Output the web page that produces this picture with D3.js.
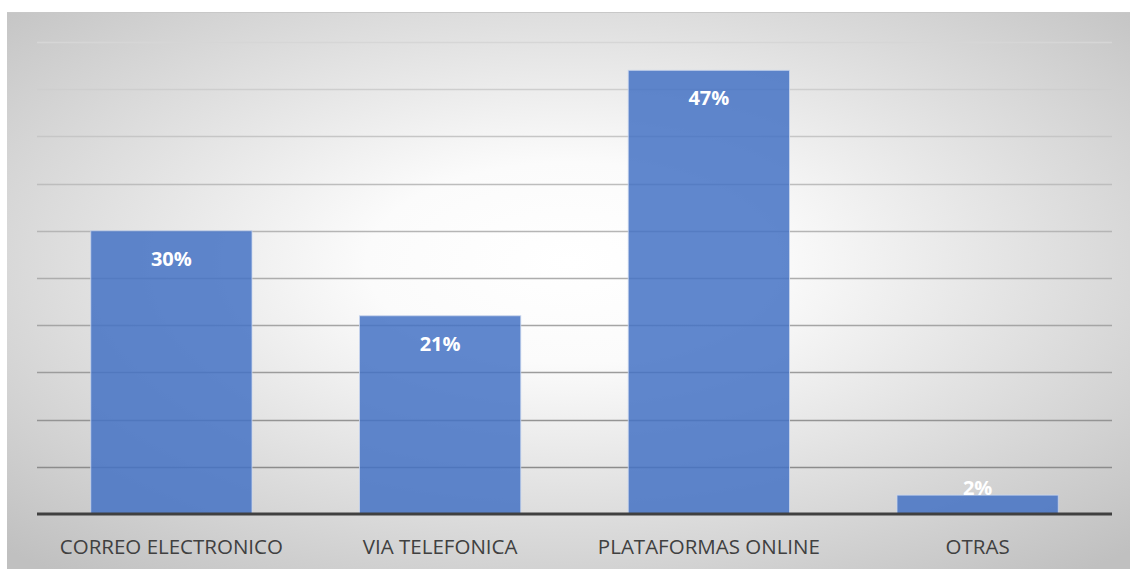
<!DOCTYPE html>
<html>
<head>
<meta charset="utf-8">
<script src="https://cdn.jsdelivr.net/npm/d3@7"></script>
<style>
  html, body { margin: 0; padding: 0; background: #ffffff; }
  svg { display: block; }
</style>
</head>
<body>
<svg id="chart" width="1130" height="569"></svg>
<script>
// Canales de contacto utilizados (porcentaje de respuestas)
const categories = ["CORREO ELECTRONICO", "VIA TELEFONICA", "PLATAFORMAS ONLINE", "OTRAS"];
const values = [0.30, 0.21, 0.47, 0.02];
const valueLabels = ["30%", "21%", "47%", "2%"];
const gridTicks = [0.05, 0.10, 0.15, 0.20, 0.25, 0.30, 0.35, 0.40, 0.45, 0.50];

const svg = d3.select("#chart");
const W = 1130, H = 569;

// Panel background: soft radial gradient, white centre fading to grey
const defs = svg.append("defs");
const grad = defs.append("radialGradient")
  .attr("id", "bg")
  .attr("cx", "0.5").attr("cy", "0.45")
  .attr("r", "0.72");
grad.append("stop").attr("offset", "0").attr("stop-color", "#ffffff");
grad.append("stop").attr("offset", "0.25").attr("stop-color", "#fbfbfb");
grad.append("stop").attr("offset", "1").attr("stop-color", "#c0c0c0");

svg.append("rect")
  .attr("x", 7).attr("y", 12)
  .attr("width", W - 7).attr("height", H - 12)
  .attr("fill", "url(#bg)");
svg.append("line")
  .attr("x1", 7).attr("x2", W).attr("y1", 12.5).attr("y2", 12.5)
  .attr("stroke", "#c8c8c8").attr("stroke-width", 1);

const margin = { left: 37, right: 18, top: 42, bottom: 55 };
const plotLeft = margin.left, plotRight = W - margin.right;

const x = d3.scaleBand()
  .domain(categories)
  .range([plotLeft, plotRight])
  .paddingInner(0.4)
  .paddingOuter(0.2);

const y = d3.scaleLinear()
  .domain([0, 0.5])
  .range([514, 42]);

// Horizontal gridlines, darker toward the baseline
const gridColor = d3.scaleLinear()
  .domain([0.5, 0.05])
  .range(["#d6d6d6", "#8c8c8c"]);

svg.append("g")
  .selectAll("line")
  .data(gridTicks)
  .join("line")
  .attr("x1", plotLeft).attr("x2", plotRight)
  .attr("y1", d => Math.round(y(d)) + 0.5)
  .attr("y2", d => Math.round(y(d)) + 0.5)
  .attr("stroke", d => gridColor(d))
  .attr("stroke-width", 1.5);

// Bars
svg.append("g")
  .selectAll("rect")
  .data(values)
  .join("rect")
  .attr("x", (d, i) => x(categories[i]))
  .attr("width", x.bandwidth())
  .attr("y", d => y(d))
  .attr("height", d => y(0) - y(d))
  .attr("fill", "#4472c4")
  .attr("fill-opacity", 0.85)
  .attr("stroke", "#c9d6ee")
  .attr("stroke-opacity", 0.8)
  .attr("stroke-width", 1);

// Category axis (baseline + labels)
const xAxis = d3.axisBottom(x).tickSize(0).tickPadding(25);
const gx = svg.append("g")
  .attr("transform", `translate(0,${y(0)})`)
  .call(xAxis);
gx.select(".domain")
  .attr("stroke", "#404040")
  .attr("stroke-width", 3)
  .attr("d", `M${plotLeft},0H${plotRight}`);
gx.selectAll(".tick text")
  .attr("fill", "#404040")
  .attr("font-family", "'Open Sans', 'Liberation Sans', sans-serif")
  .attr("font-size", 20.5)
  .attr("dy", "0.71em");

// Value labels inside the top of each bar
svg.append("g")
  .selectAll("text")
  .data(values)
  .join("text")
  .attr("x", (d, i) => x(categories[i]) + x.bandwidth() / 2)
  .attr("y", d => Math.min(y(d) + 35, y(0) - 19))
  .attr("text-anchor", "middle")
  .attr("fill", "#ffffff")
  .attr("font-family", "'Open Sans', 'Liberation Sans', sans-serif")
  .attr("font-weight", "bold")
  .attr("font-size", 20)
  .text((d, i) => valueLabels[i]);
</script>
</body>
</html>
